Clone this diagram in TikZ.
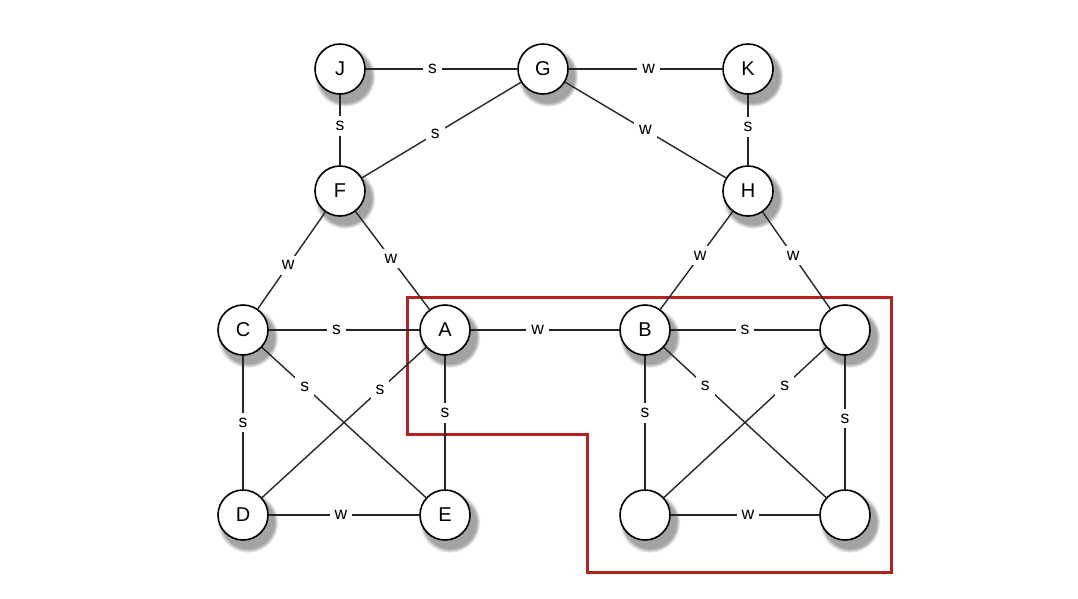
\documentclass[tikz,border=0pt]{standalone}
\usepackage{fontspec}
\setmainfont{Liberation Sans}
\usetikzlibrary{shadows}
\definecolor{boxred}{RGB}{180,35,30}
\begin{document}
\begin{tikzpicture}[x=1pt,y=-1pt,
  vtx/.style={circle,draw=black,line width=1.6pt,fill=white,minimum size=50pt,inner sep=0pt,
    font=\fontsize{20}{24}\selectfont,
    circular drop shadow={shadow xshift=4pt,shadow yshift=-6pt,shadow scale=1.22,fill=black!60,opacity=0.6}},
  edge/.style={draw=black!85,line width=1.4pt},
  lab/.style={fill=white,inner sep=5pt,font=\fontsize{17.5}{20}\selectfont}]
\useasboundingbox (0,0) rectangle (1078,598);
\draw[boxred,line width=3pt] (407,297) -- (891,297) -- (891,572) -- (587,572) -- (587,434) -- (407,434) -- cycle;
\node[vtx] (J) at (340,69) {J};
\node[vtx] (G) at (543,69) {G};
\node[vtx] (K) at (748,69) {K};
\node[vtx] (F) at (340,191) {F};
\node[vtx] (H) at (748,191) {H};
\node[vtx] (C) at (243,330) {C};
\node[vtx] (A) at (445,330) {A};
\node[vtx] (B) at (645,330) {B};
\node[vtx] (X1) at (845,330) {};
\node[vtx] (D) at (243,515) {D};
\node[vtx] (E) at (445,515) {E};
\node[vtx] (X2) at (645,515) {};
\node[vtx] (X3) at (845,515) {};
\path[edge] (J) -- node[lab,pos=0.44]{s} (G);
\path[edge] (G) -- node[lab,pos=0.52]{w} (K);
\path[edge] (J) -- node[lab,pos=0.44]{s} (F);
\path[edge] (G) -- node[lab,pos=0.54]{s} (F);
\path[edge] (G) -- node[lab,pos=0.50]{w} (H);
\path[edge] (K) -- node[lab,pos=0.46]{s} (H);
\path[edge] (F) -- node[lab,pos=0.55]{w} (C);
\path[edge] (F) -- node[lab,pos=0.48]{w} (A);
\path[edge] (H) -- node[lab,pos=0.45]{w} (B);
\path[edge] (H) -- node[lab,pos=0.45]{w} (X1);
\path[edge] (C) -- node[lab,pos=0.45]{s} (A);
\path[edge] (A) -- node[lab,pos=0.45]{w} (B);
\path[edge] (B) -- node[lab,pos=0.50]{s} (X1);
\path[edge] (C) -- node[lab,pos=0.50]{s} (D);
\path[edge] (C) -- node[lab,pos=0.26]{s} (E);
\path[edge] (A) -- node[lab,pos=0.28]{s} (D);
\path[edge] (A) -- node[lab,pos=0.43]{s} (E);
\path[edge] (D) -- node[lab,pos=0.48]{w} (E);
\path[edge] (B) -- node[lab,pos=0.43]{s} (X2);
\path[edge] (B) -- node[lab,pos=0.255]{s} (X3);
\path[edge] (X1) -- node[lab,pos=0.255]{s} (X2);
\path[edge] (X1) -- node[lab,pos=0.47]{s} (X3);
\path[edge] (X2) -- node[lab,pos=0.52]{w} (X3);
\end{tikzpicture}
\end{document}
